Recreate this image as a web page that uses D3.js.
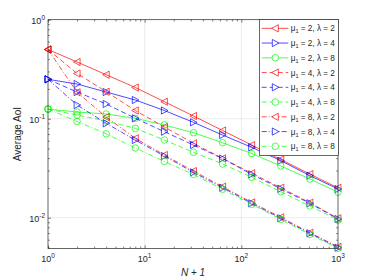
<!DOCTYPE html>
<html>
<head>
<meta charset="utf-8">
<script src="https://cdn.jsdelivr.net/npm/d3@7"></script>
<style>
  body { margin: 0; background: #fff; }
  svg { font-family: "Liberation Sans", Arial, sans-serif; }
</style>
</head>
<body>
<svg id="chart" width="374" height="280"></svg>
<script>
// x positions (N + 1)
const nPlusOne = [1, 2, 4, 8, 16, 32, 64, 128, 256, 512, 1000];

// average AoI, one array per (mu1, lambda)
const mu2lam2 = [0.5, 0.374, 0.278, 0.2066, 0.1485, 0.1065, 0.076, 0.0542, 0.0387, 0.0276, 0.02];
const mu2lam4 = [0.25, 0.224, 0.186, 0.1545, 0.121, 0.092, 0.0684, 0.0514, 0.0377, 0.0266, 0.0195];
const mu2lam8 = [0.125, 0.1169, 0.1116, 0.1009, 0.0864, 0.0722, 0.0572, 0.0445, 0.0333, 0.0246, 0.0181];
const mu4lam2 = [0.5, 0.286, 0.1874, 0.121, 0.0825, 0.0564, 0.0398, 0.0281, 0.0201, 0.01418, 0.00986];
const mu4lam4 = [0.25, 0.186, 0.1408, 0.1009, 0.0739, 0.0542, 0.0396, 0.0274, 0.0196, 0.01398, 0.0097];
const mu4lam8 = [0.125, 0.109, 0.0948, 0.08, 0.0609, 0.0458, 0.0349, 0.0256, 0.0183, 0.01313, 0.00948];
const mu8lam2 = [0.5, 0.1848, 0.104, 0.0634, 0.043, 0.0296, 0.0206, 0.0143, 0.0101, 0.00706, 0.00509];
const mu8lam4 = [0.25, 0.1375, 0.0898, 0.0609, 0.042, 0.0287, 0.0201, 0.01398, 0.00986, 0.00696, 0.00498];
const mu8lam8 = [0.125, 0.0937, 0.0704, 0.0506, 0.037, 0.0274, 0.0194, 0.01366, 0.00963, 0.00678, 0.00491];

const mus = [2, 4, 8];
const lambdas = [2, 4, 8];
const xMajor = [1, 10, 100, 1000];
const yMajor = [0.01, 0.1, 1];

const series = [
  {mu: 2, lam: 2, values: mu2lam2}, {mu: 2, lam: 4, values: mu2lam4}, {mu: 2, lam: 8, values: mu2lam8},
  {mu: 4, lam: 2, values: mu4lam2}, {mu: 4, lam: 4, values: mu4lam4}, {mu: 4, lam: 8, values: mu4lam8},
  {mu: 8, lam: 2, values: mu8lam2}, {mu: 8, lam: 4, values: mu8lam4}, {mu: 8, lam: 8, values: mu8lam8}
];

// style per lambda (colour + marker) and per mu1 (dash)
const colorOf = {2: '#ff0000', 4: '#0000ff', 8: '#00ff00'};
const dashOf = {2: null, 4: '5,3', 8: '5,2,1,2'};
const markerOf = {
  2: 'M-3.6,0L3,-3.6L3,3.6Z',
  4: 'M3.6,0L-3,-3.6L-3,3.6Z',
  8: d3.symbol(d3.symbolCircle, 34)()
};

const svg = d3.select('#chart');
const L = 48, R = 338, T = 19.7, B = 248.4;
const axisColor = '#262626';

const x = d3.scaleLog().domain([1, 1000]).range([L, R]);
const y = d3.scaleLog().domain([0.0049, 1]).range([B, T]);

// minor ticks 2..9 per decade
const xMinor = [];
for (let d = 1; d < 1000; d *= 10) for (let k = 2; k <= 9; k++) xMinor.push(d * k);
const yMinor = [];
for (let d = 0.001; d < 1; d *= 10) for (let k = 2; k <= 9; k++) {
  const v = +(d * k).toPrecision(3);
  if (v >= 0.0049 && v < 1) yMinor.push(v);
}

// grid
svg.append('g').selectAll('line.gx').data(xMajor.slice(1, -1)).enter().append('line')
  .attr('x1', d => x(d)).attr('x2', d => x(d)).attr('y1', T).attr('y2', B)
  .attr('stroke', '#e3e3e3').attr('stroke-width', 0.7);
svg.append('g').selectAll('line.gy').data(yMajor.slice(0, -1)).enter().append('line')
  .attr('x1', L).attr('x2', R).attr('y1', d => y(d)).attr('y2', d => y(d))
  .attr('stroke', '#e3e3e3').attr('stroke-width', 0.7);

// ticks on all four sides, pointing inwards
function ticks(axis, tr, vals, size) {
  svg.append('g').attr('transform', tr)
    .call(axis.tickValues(vals).tickSize(size).tickSizeOuter(0).tickFormat(''))
    .call(s => s.select('.domain').remove())
    .call(s => s.selectAll('line').attr('stroke', axisColor).attr('stroke-width', 0.6));
}
ticks(d3.axisBottom(x), `translate(0,${B})`, xMajor, -3);
ticks(d3.axisBottom(x), `translate(0,${B})`, xMinor, -1.8);
ticks(d3.axisTop(x), `translate(0,${T})`, xMajor, -3);
ticks(d3.axisTop(x), `translate(0,${T})`, xMinor, -1.8);
ticks(d3.axisLeft(y), `translate(${L},0)`, yMajor, -3);
ticks(d3.axisLeft(y), `translate(${L},0)`, yMinor, -1.8);
ticks(d3.axisRight(y), `translate(${R},0)`, yMajor, -3);
ticks(d3.axisRight(y), `translate(${R},0)`, yMinor, -1.8);

// tick labels 10^k
const xl = svg.append('g').selectAll('text').data(xMajor).enter().append('text')
  .attr('x', d => x(d)).attr('y', B + 14).attr('text-anchor', 'middle')
  .attr('font-size', 9).attr('fill', axisColor);
xl.append('tspan').text('10');
xl.append('tspan').attr('dy', -4).attr('font-size', 6.5).text(d => Math.round(Math.log10(d)));

const yl = svg.append('g').selectAll('text').data(yMajor).enter().append('text')
  .attr('x', L - 3).attr('y', d => y(d) + 4).attr('text-anchor', 'end')
  .attr('font-size', 9).attr('fill', axisColor);
yl.append('tspan').text('10');
yl.append('tspan').attr('dy', -4).attr('font-size', 6.5).text(d => Math.round(Math.log10(d)));

// axis titles
svg.append('text').attr('transform', `translate(21,${(T + B) / 2}) rotate(-90)`)
  .attr('text-anchor', 'middle').attr('font-size', 10).attr('fill', axisColor).text('Average AoI');
const xt = svg.append('text').attr('x', (L + R) / 2).attr('y', 276)
  .attr('text-anchor', 'middle').attr('font-size', 10).attr('fill', axisColor);
xt.append('tspan').attr('font-style', 'italic').text('N');
xt.append('tspan').text(' + ');
xt.append('tspan').attr('font-style', 'italic').text('1');

// data
const line = d3.line().x((d, i) => x(nPlusOne[i])).y(d => y(d));
const sg = svg.append('g').selectAll('g').data(series).enter().append('g');
sg.append('path').attr('d', d => line(d.values)).attr('fill', 'none')
  .attr('stroke', d => colorOf[d.lam]).attr('stroke-width', 0.7)
  .attr('stroke-dasharray', d => dashOf[d.mu]);
sg.each(function(s) {
  d3.select(this).selectAll('path.m').data(s.values).enter().append('path')
    .attr('class', 'm')
    .attr('transform', (d, i) => `translate(${x(nPlusOne[i])},${y(d)})`)
    .attr('d', markerOf[s.lam]).attr('fill', 'none')
    .attr('stroke', colorOf[s.lam]).attr('stroke-width', 0.7);
});

// frame
svg.append('rect').attr('x', L).attr('y', T).attr('width', R - L).attr('height', B - T)
  .attr('fill', 'none').attr('stroke', axisColor).attr('stroke-width', 0.7);

// legend
const lg = svg.append('g');
lg.append('rect').attr('x', 259.5).attr('y', 19.5).attr('width', 79).attr('height', 136)
  .attr('fill', '#fff').attr('stroke', axisColor).attr('stroke-width', 0.7);
const rows = lg.selectAll('g').data(series).enter().append('g')
  .attr('transform', (d, i) => `translate(0,${28.3 + i * 14.75})`);
rows.append('line').attr('x1', 261.7).attr('x2', 288.3)
  .attr('stroke', d => colorOf[d.lam]).attr('stroke-width', 0.7)
  .attr('stroke-dasharray', d => dashOf[d.mu]);
rows.append('path').attr('transform', 'translate(275.3,0)').attr('d', d => markerOf[d.lam])
  .attr('fill', '#fff').attr('stroke', d => colorOf[d.lam]).attr('stroke-width', 0.7);
const lt = rows.append('text').attr('x', 290.7).attr('y', 3).attr('font-size', 8.2).attr('fill', axisColor);
lt.append('tspan').text('\u03bc');
lt.append('tspan').attr('dy', 2).attr('font-size', 5.5).text('1');
lt.append('tspan').attr('dy', -2).text(d => ` = ${d.mu}, \u03bb = ${d.lam}`);
</script>
</body>
</html>
